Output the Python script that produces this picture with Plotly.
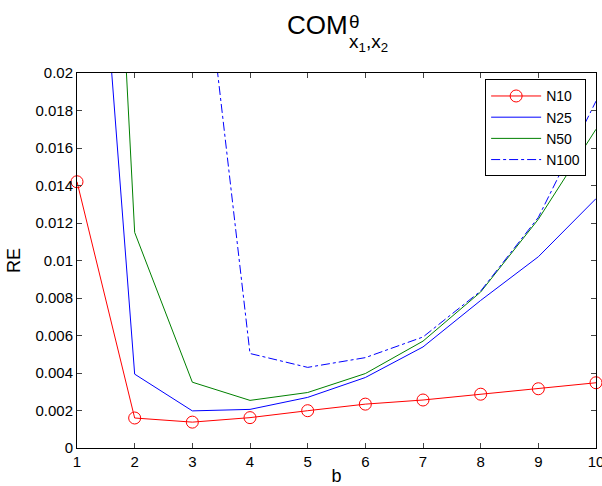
import plotly.graph_objects as go

# values
b = [1, 2, 3, 4, 5, 6, 7, 8, 9, 10]
n10 = [0.0142, 0.00160, 0.00138, 0.00162, 0.00199, 0.00234, 0.00256, 0.00287, 0.00316, 0.00348]
n25 = [0.0443, 0.00394, 0.00198, 0.00206, 0.00270, 0.00376, 0.00539, 0.00787, 0.0102, 0.0133]
n50 = [0.0710, 0.0115, 0.00351, 0.00254, 0.00296, 0.00397, 0.00570, 0.00832, 0.0122, 0.0170]
b100 = [3, 4, 5, 6, 7, 8, 9, 10]
n100 = [0.0317, 0.00504, 0.00430, 0.00482, 0.00592, 0.00837, 0.0123, 0.0185]

y_ticks = [0, 0.002, 0.004, 0.006, 0.008, 0.01, 0.012, 0.014, 0.016, 0.018, 0.02]
y_labels = ['0', '0.002', '0.004', '0.006', '0.008', '0.01', '0.012', '0.014', '0.016', '0.018', '0.02']

font = 'Liberation Sans, Arial, sans-serif'

fig = go.Figure()
fig.add_trace(go.Scatter(
    x=b, y=n10, name='N10', mode='lines+markers',
    line=dict(color='#ff0000', width=1),
    marker=dict(symbol='circle-open', size=12, color='#ff0000', line=dict(width=1)),
    cliponaxis=False
))
fig.add_trace(go.Scatter(
    x=b, y=n25, name='N25', mode='lines',
    line=dict(color='#0000ff', width=1)
))
fig.add_trace(go.Scatter(
    x=b, y=n50, name='N50', mode='lines',
    line=dict(color='#008000', width=1)
))
fig.add_trace(go.Scatter(
    x=b100, y=n100, name='N100', mode='lines',
    line=dict(color='#0000ff', width=1, dash='dashdot')
))

fig.update_layout(
    width=602,
    height=486,
    margin=dict(l=77, r=6, t=73, b=38, autoexpand=False),
    paper_bgcolor='white',
    plot_bgcolor='white',
    font=dict(family=font, size=15, color='black'),
    showlegend=True,
    legend=dict(
        x=0.981, y=0.983, xanchor='right', yanchor='top',
        bgcolor='white', bordercolor='black', borderwidth=1,
        font=dict(size=14), itemwidth=50, tracegroupgap=0
    ),
    xaxis=dict(
        range=[1, 10], tickvals=b, ticks='inside', ticklen=5,
        showline=True, linecolor='black', linewidth=1, mirror='ticks',
        showgrid=False, zeroline=False, automargin=False,
        ticklabeloverflow='allow',
        title=dict(text='b', standoff=9)
    ),
    yaxis=dict(
        range=[0, 0.02], tickvals=y_ticks, ticktext=y_labels,
        ticks='inside', ticklen=5,
        showline=True, linecolor='black', linewidth=1, mirror='ticks',
        showgrid=False, zeroline=False, automargin=False,
        ticklabeloverflow='allow',
        title=dict(text='RE', standoff=10)
    ),
    annotations=[
        dict(text='COM', xref='paper', yref='paper', x=(285 - 77) / 519, y=(448 - 25) / 375.3,
             xanchor='left', yanchor='middle', showarrow=False, font=dict(size=26)),
        dict(text='θ', xref='paper', yref='paper', x=(347 - 77) / 519, y=(448 - 21) / 375.3,
             xanchor='left', yanchor='middle', showarrow=False, font=dict(size=19)),
        dict(text='x<sub>1</sub>,x<sub>2</sub>', xref='paper', yref='paper',
             x=(347 - 77) / 519, y=(448 - 43) / 375.3,
             xanchor='left', yanchor='middle', showarrow=False, font=dict(size=19)),
    ]
)

fig.write_html("out.html", config={'displayModeBar': False},
               post_script="document.body.style.margin='0';")
